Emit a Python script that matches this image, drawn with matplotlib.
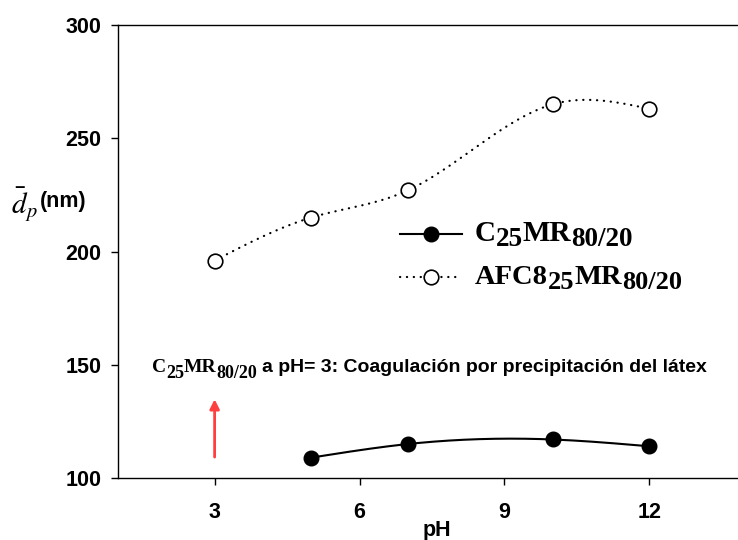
import numpy as np
import matplotlib
matplotlib.use("Agg")
import matplotlib.pyplot as plt
from matplotlib.transforms import IdentityTransform

# data
ph_c25 = [5, 7, 10, 12]
dp_c25 = [109, 115, 117, 114]
ph_afc = [3, 5, 7, 10, 12]
dp_afc = [196, 215, 227, 265, 263]

xticks = [3, 6, 9, 12]
yticks = [100, 150, 200, 250, 300]

W, H = 738, 540


def natural_spline(x, y, n=200):
    # smooth line through the points, like the original plot
    x = np.asarray(x, float)
    y = np.asarray(y, float)
    k = len(x)
    h = np.diff(x)
    A = np.zeros((k, k))
    b = np.zeros(k)
    A[0, 0] = A[-1, -1] = 1
    for i in range(1, k - 1):
        A[i, i - 1] = h[i - 1]
        A[i, i] = 2 * (h[i - 1] + h[i])
        A[i, i + 1] = h[i]
        b[i] = 6 * ((y[i + 1] - y[i]) / h[i] - (y[i] - y[i - 1]) / h[i - 1])
    M = np.linalg.solve(A, b)
    xs = np.linspace(x[0], x[-1], n)
    j = np.clip(np.searchsorted(x, xs) - 1, 0, k - 2)
    t0 = x[j + 1] - xs
    t1 = xs - x[j]
    hj = h[j]
    ys = (M[j] * t0**3 + M[j + 1] * t1**3) / (6 * hj) \
        + (y[j] / hj - M[j] * hj / 6) * t0 + (y[j + 1] / hj - M[j + 1] * hj / 6) * t1
    return xs, ys


def rich_text(fig, x, y, pieces, renderer):
    # pieces: (text, size, drop in px); x, y in display pixels, y = baseline
    for s, size, dy in pieces:
        t = fig.text(x, y - dy, s, fontsize=size, family='Liberation Serif',
                     fontweight='bold', va='baseline', ha='left',
                     transform=IdentityTransform())
        x += t.get_window_extent(renderer).width
    return x


plt.rcParams['font.family'] = 'Liberation Sans'
plt.rcParams['mathtext.fontset'] = 'stix'

fig = plt.figure(figsize=(W / 100, H / 100), dpi=100)
ax = fig.add_axes([118 / W, 62 / H, (746 - 118) / W, 453 / H])

dots = (0, (0.1, 3.0))
xs, ys = natural_spline(ph_c25, dp_c25)
ax.plot(xs, ys, color='black', lw=1.5)
ax.plot(ph_c25, dp_c25, 'o', color='black', ms=10.5)
ln1, = ax.plot([], [], '-o', color='black', lw=1.5, ms=10.5)

xs, ys = natural_spline(ph_afc, dp_afc)
ax.plot(xs, ys, color='black', lw=1.6, linestyle=dots, dash_capstyle='round')
ax.plot(ph_afc, dp_afc, 'o', mfc='white', mec='black', mew=1.2, ms=10.5)
ln2, = ax.plot([], [], 'o', linestyle=dots, color='black', mfc='white',
               mec='black', mew=1.2, ms=10.5, lw=1.6, dash_capstyle='round')

# legend keys only; the labels with big subscripts are drawn next to them below
leg = ax.legend([ln1, ln2], ['', ''], loc='center left',
                bbox_to_anchor=(400 / W, 1 - 258 / H), bbox_transform=fig.transFigure,
                frameon=False, fontsize=18, handlelength=2.5, handleheight=1.0,
                labelspacing=0.72, handletextpad=0, borderpad=0, borderaxespad=0)

ax.annotate('', xy=(3, 136), xytext=(3, 108),
            arrowprops=dict(arrowstyle='-|>', color='#ff4040', lw=2, mutation_scale=14))

ax.set_xlim(1, 14)
ax.set_ylim(100, 300)
ax.set_xticks(xticks)
ax.set_yticks(yticks)
ax.tick_params(direction='out', length=5, width=1, labelsize=15.5)
ax.tick_params(axis='x', pad=12)
ax.tick_params(axis='y', pad=7)
for lab in ax.get_xticklabels() + ax.get_yticklabels():
    lab.set_fontweight('bold')
ax.spines['right'].set_visible(False)
for s in ['left', 'bottom', 'top']:
    ax.spines[s].set_linewidth(1)

fig.text(437 / W, 1 - 520 / H, 'pH', fontsize=15.5, fontweight='bold', va='top', ha='center')
fig.text(11 / W, 1 - 205 / H, r'$\bar{d}_p$', fontsize=21, va='center', ha='left')
fig.text(40 / W, 1 - 202 / H, '(nm)', fontsize=15.5, fontweight='bold', va='center', ha='left')

fig.canvas.draw()
rend = fig.canvas.get_renderer()

leg_pieces = [
    [('C', 21, 0), ('25', 19.5, 5), ('MR', 21, 0), ('80/20', 19.5, 5)],
    [('AFC8', 20.5, 0), ('25', 19, 5), ('MR', 20.5, 0), ('80/20', 19, 5)],
]
for hnd, pieces in zip(leg.legend_handles, leg_pieces):
    bb = hnd.get_window_extent(rend)
    yc = (bb.y0 + bb.y1) / 2
    rich_text(fig, bb.x1 + 5, yc - 7, pieces, rend)

# note about the coagulated latex at pH 3
x_end = rich_text(fig, 152, H - 372,
                  [('C', 14, 0), ('25', 13, 6), ('MR', 14, 0), ('80/20', 13, 6)], rend)
fig.text(x_end + 5, H - 372, 'a pH= 3: Coagulación por precipitación del látex',
         fontsize=14, fontweight='bold', va='baseline', ha='left',
         transform=IdentityTransform())

fig.savefig('out.png', dpi=100)
